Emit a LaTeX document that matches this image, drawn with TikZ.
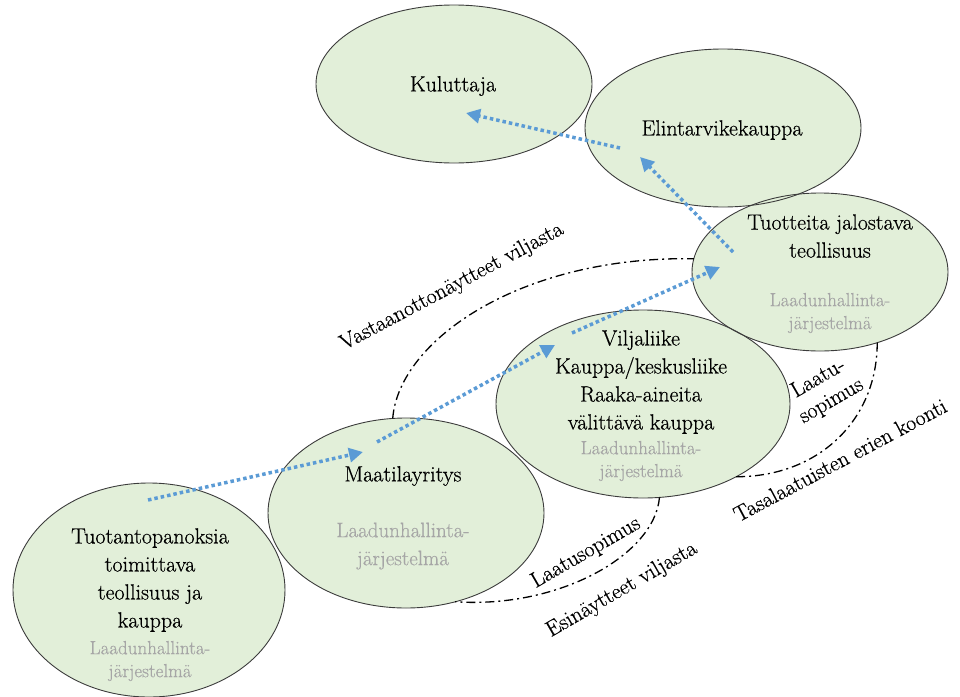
\documentclass[tikz,border=0pt]{standalone}
\usepackage{fontspec}
\newfontfamily\romanface{Latin Modern Roman}[FakeBold=0.5]
\usetikzlibrary{shapes.geometric,arrows.meta}
\definecolor{leaf}{RGB}{226,239,217}
\definecolor{rim}{RGB}{60,60,60}
\definecolor{flow}{RGB}{91,155,213}
\definecolor{qms}{RGB}{166,166,166}

\begin{document}
\begin{tikzpicture}[x=1pt,y=-1pt,
  blob/.style={ellipse, fill=leaf, inner sep=0pt, outer sep=0pt},
  rimline/.style={draw=rim, line width=0.9pt},
  txt/.style={font=\romanface\fontsize{22}{28}\selectfont, align=center, inner sep=0pt},
  qtxt/.style={font=\romanface\fontsize{19}{23}\selectfont, text=qms, align=center, inner sep=0pt},
  qtxtbig/.style={font=\romanface\fontsize{21}{28}\selectfont, text=qms, align=center, inner sep=0pt},
  flowarrow/.style={draw=flow, line width=3.5pt, dash pattern=on 3.5pt off 3pt,
    -{Triangle[length=14pt,width=14pt]}},
  agreement/.style={draw=black, line width=1.3pt, dash pattern=on 9pt off 4pt on 2pt off 4pt},
  lbl/.style={font=\romanface\fontsize{22}{26}\selectfont, inner sep=0pt, align=center}]

\useasboundingbox (0,0) rectangle (960,696);

% actors of the chain: name / centre x / centre y / x radius / y radius
\def\actors{kul/454/84/138/79, eli/723/128/138/79, tuo/820/272/128/79,
  vil/643/404/147/94, maa/406/513/138/95, pan/149/590/136/107}

% fills first, outlines afterwards, so every rim stays visible where shapes overlap
\foreach \n/\cx/\cy/\rx/\ry in \actors {
  \node[blob, minimum width={2*\rx pt}, minimum height={2*\ry pt}] (\n) at (\cx,\cy) {};
}
\foreach \n/\cx/\cy/\rx/\ry in \actors {
  \draw[rimline] (\n.center) ellipse [x radius=\rx pt, y radius=\ry pt];
}

% texts inside the ellipses
\node[txt] (kult) at (453,86) {Kuluttaja};
\node[txt] (elit) at (722,130) {Elintarvikekauppa};
\node[txt] (tuot) at (830,236) {Tuotteita jalostava\\teollisuus};
\node[qtxt] (tuoq) at (830,313) {Laadunhallinta-\\järjestelmä};
\node[txt] (vilt) at (641,382) {Viljaliike\\Kauppa/keskusliike\\Raaka-aineita\\välittävä kauppa};
\node[qtxt] (vilq) at (641,461) {Laadunhallinta-\\järjestelmä};
\node[txt] (maat) at (403,476) {Maatilayritys};
\node[qtxtbig] (maaq) at (403,546) {Laadunhallinta-\\järjestelmä};
\node[txt] (pant) at (150,580) {Tuotantopanoksia\\toimittava\\teollisuus ja\\kauppa};
\node[qtxt] (panq) at (150,661) {Laadunhallinta-\\järjestelmä};

% quality agreements and sampling between the actors
\draw[agreement] (maa.98) .. controls +(6,-78) and +(-173,-3) .. (tuo.174);
\draw[agreement] (vil.280) .. controls +(-5,58) and +(103,7) .. (maa.299);
\draw[agreement] (tuo.309) .. controls +(0,77) and +(83,0) .. (vil.322);

\node[lbl, rotate=28] (vast) at (452,287) {Vastaanottonäytteet viljasta};
\node[lbl, rotate=30] (sop1) at (586,553) {Laatusopimus};
\node[lbl, rotate=30] (esin) at (622,590) {Esinäytteet viljasta};
\node[lbl, rotate=30] (sop2) at (825,390) {Laatu-\\sopimus};
\node[lbl, rotate=28] (tasa) at (840,460) {Tasalaatuisten erien koonti};

% flow of grain and products through the chain
\coordinate (a1s) at (148,500);
\coordinate (a1e) at (363,452);
\coordinate (a2s) at (377,442);
\coordinate (a2e) at (555,345);
\coordinate (a3s) at (572,333);
\coordinate (a3e) at (720,267);
\coordinate (a4s) at (733,252);
\coordinate (a4e) at (640,157);
\coordinate (a5s) at (620,148);
\coordinate (a5e) at (466,113);
\draw[flowarrow] (a1s) -- (a1e);
\draw[flowarrow] (a2s) -- (a2e);
\draw[flowarrow] (a3s) -- (a3e);
\draw[flowarrow] (a4s) -- (a4e);
\draw[flowarrow] (a5s) -- (a5e);
\end{tikzpicture}
\end{document}
